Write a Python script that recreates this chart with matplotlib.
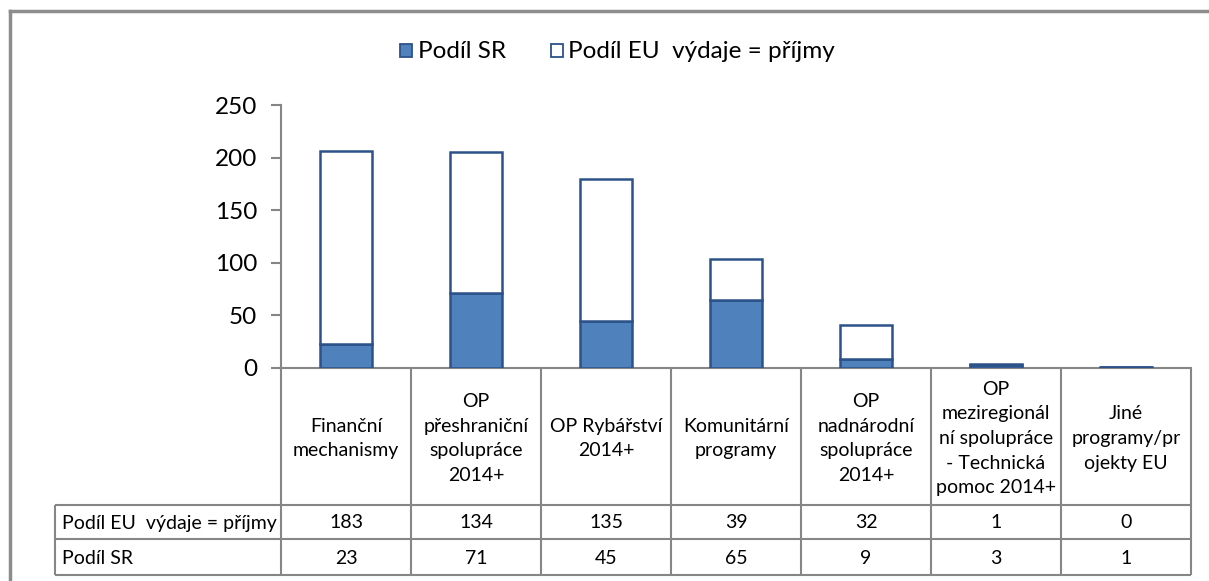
import matplotlib
matplotlib.use("Agg")
import matplotlib.pyplot as plt
from matplotlib.patches import Rectangle
from matplotlib.lines import Line2D

# ---- data ----
categories = [
    "Finanční\nmechanismy",
    "OP\npřeshraniční\nspolupráce\n2014+",
    "OP Rybářství\n2014+",
    "Komunitární\nprogramy",
    "OP\nnadnárodní\nspolupráce\n2014+",
    "OP\nmeziregionál\nní spolupráce\n- Technická\npomoc 2014+",
    "Jiné\nprogramy/pr\nojekty EU",
]
podil_sr = [23, 71, 45, 65, 9, 3, 1]
podil_eu = [183, 134, 135, 39, 32, 1, 0]
series_names = ["Podíl SR", "Podíl EU  výdaje = příjmy"]
yticks = [0, 50, 100, 150, 200, 250]

# ---- style ----
FONT = ["Lato", "DejaVu Sans"]
plt.rcParams["font.family"] = FONT
W, H = 1209, 581
SR_FILL = "#4F81BD"
EDGE = "#2C5289"
GRID = "#868686"
TFS = 14

fig = plt.figure(figsize=(W / 100, H / 100), dpi=100)
fig.patch.set_facecolor("white")

# overlay in pixel coordinates
ov = fig.add_axes([0, 0, 1, 1])
ov.set_xlim(0, W)
ov.set_ylim(H, 0)
ov.axis("off")
ov.patch.set_alpha(0)

X0, X1 = 281, 1191
Y_TOP, Y_ZERO = 105, 368
ax = fig.add_axes([X0 / W, (H - Y_ZERO) / H, (X1 - X0) / W, (Y_ZERO - Y_TOP) / H])
ax.patch.set_alpha(0)
n = len(categories)
x = list(range(n))
ax.bar(x, podil_sr, width=0.40, color=SR_FILL, edgecolor=EDGE, linewidth=1.8, zorder=3)
ax.bar(x, podil_eu, width=0.40, bottom=podil_sr, color="white", edgecolor=EDGE,
       linewidth=1.8, zorder=3)
ax.set_xlim(-0.5, n - 0.5)
ax.set_ylim(0, 250)
ax.set_yticks(yticks)
ax.set_xticks([])
for s in ["top", "right"]:
    ax.spines[s].set_visible(False)
ax.spines["left"].set_color(GRID)
ax.spines["bottom"].set_color(GRID)
ax.spines["left"].set_linewidth(1.5)
ax.spines["bottom"].set_linewidth(1.5)
ax.tick_params(axis="y", length=7, width=1.5, color=GRID, labelsize=17.5, pad=10)
for lab in ax.get_yticklabels():
    lab.set_fontfamily(FONT)

# outer frame
ov.add_line(Line2D([10, W + 5], [11, 11], color="#8C8C8C", lw=2.5))
ov.add_line(Line2D([10, 10], [11, H + 5], color="#8C8C8C", lw=2.5))

# data table
CW = (X1 - X0) / n
Y_HDR, Y_R1, Y_R2 = 505, 539, 575
XL = 55
lk = dict(color=GRID, lw=1.5, solid_capstyle="butt")
for i in range(n + 1):
    xx = X0 + CW * i
    ov.add_line(Line2D([xx, xx], [Y_ZERO, Y_R2], **lk))
for yy in [Y_HDR, Y_R1, Y_R2]:
    ov.add_line(Line2D([XL, X1], [yy, yy], **lk))
ov.add_line(Line2D([XL, XL], [Y_HDR, Y_R2], **lk))

for i, c in enumerate(categories):
    cx = X0 + CW * (i + 0.5)
    ov.text(cx, (Y_ZERO + Y_HDR) / 2 + 2, c, ha="center", va="center", fontsize=TFS,
            linespacing=1.55, color="black")
    ov.text(cx, (Y_HDR + Y_R1) / 2 + 1, str(podil_eu[i]), ha="center", va="center", fontsize=TFS)
    ov.text(cx, (Y_R1 + Y_R2) / 2 + 1, str(podil_sr[i]), ha="center", va="center", fontsize=TFS)
ov.text(XL + 7, (Y_HDR + Y_R1) / 2 + 1, series_names[1], ha="left", va="center", fontsize=TFS)
ov.text(XL + 7, (Y_R1 + Y_R2) / 2 + 1, series_names[0], ha="left", va="center", fontsize=TFS)

# legend
ov.add_patch(Rectangle((400, 44), 12, 13, facecolor=SR_FILL, edgecolor=EDGE, lw=1.3))
ov.text(418, 51, series_names[0], ha="left", va="center", fontsize=17.5)
ov.add_patch(Rectangle((551, 44), 12, 13, facecolor="white", edgecolor=EDGE, lw=1.3))
ov.text(568, 51, series_names[1], ha="left", va="center", fontsize=17.5)

fig.savefig("out.png", dpi=100, facecolor="white")
